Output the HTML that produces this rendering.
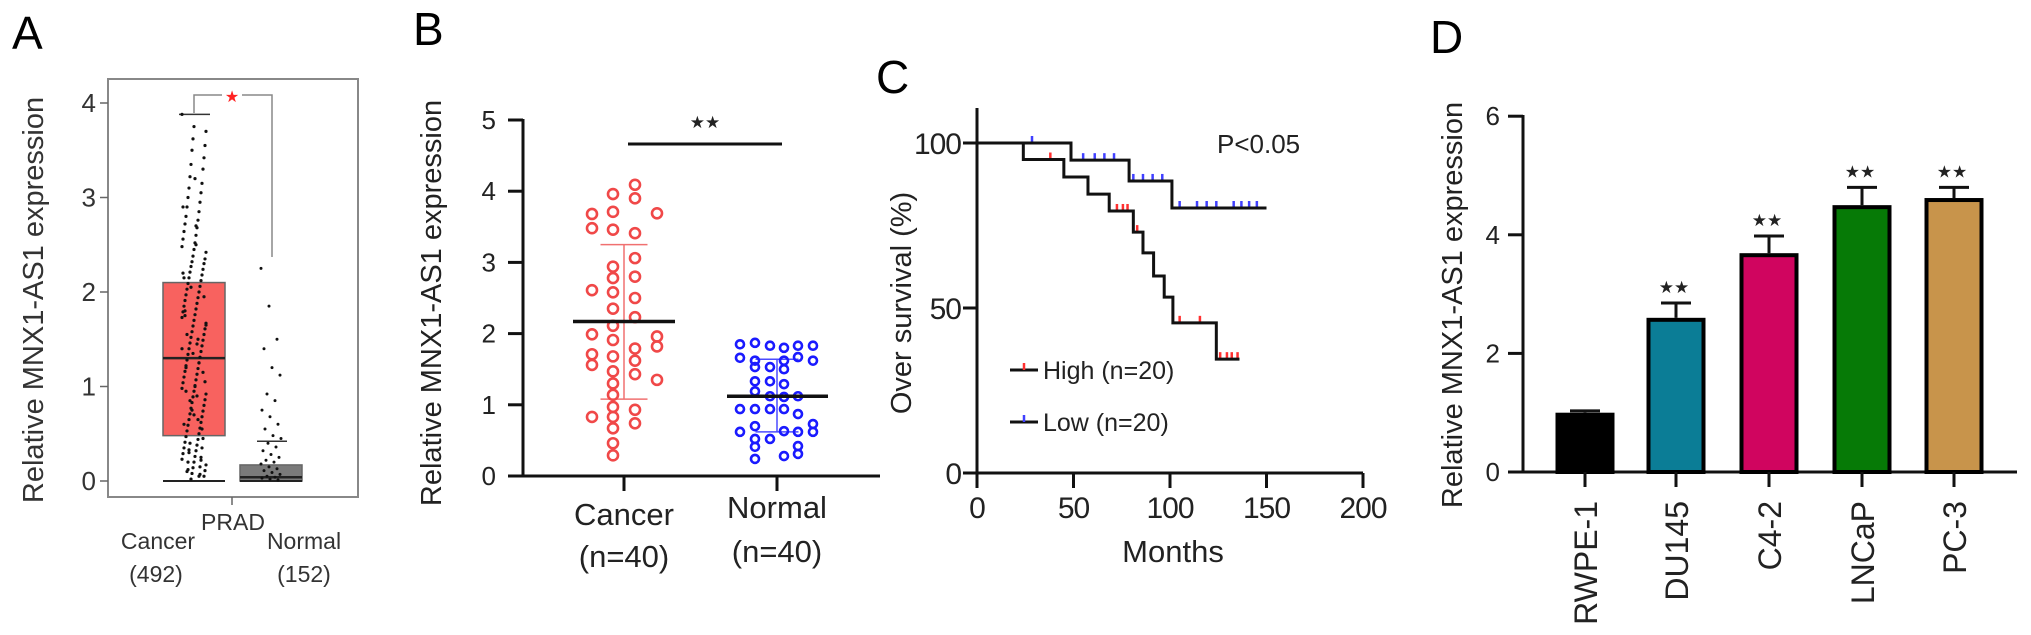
<!DOCTYPE html>
<html><head><meta charset="utf-8"><style>
html,body{margin:0;padding:0;background:#fff;}
svg{display:block;font-family:"Liberation Sans",Arial,sans-serif;}
</style></head><body>
<svg id="fig" width="2031" height="635" viewBox="0 0 2031 635" xmlns="http://www.w3.org/2000/svg">
<g id="pA"></g>
<g id="pB"></g>
<g id="pC"></g>
<g id="pD"></g>
</svg>
<script>
// ---------- Panel A data ----------
const aTicks = [0,1,2,3,4];
const aCancerBox = [0.48, 1.30, 2.10];   // q1, median, q3
const aCancerWhisk = [0, 3.88];
const aNormalBox = [0, 0.04, 0.17];
const aNormalWhisk = [0, 0.42];
const aCancerPts = [3.88,3.75,3.7,3.62,3.55,3.5,3.42,3.35,3.3,3.22,3.15,3.1,3.05,3.0,2.95,2.9,2.85,2.8,2.76,2.72,2.68,2.64,2.6,2.56,2.52,2.48,2.45,2.42,2.38,2.35,2.32,2.3,2.27,2.24,2.21,2.18,2.15,2.12,2.09,2.06,2.03,2.0,1.97,1.94,1.91,1.88,1.85,1.82,1.79,1.76,1.73,1.7,1.67,1.64,1.61,1.58,1.55,1.52,1.49,1.46,1.43,1.4,1.37,1.34,1.31,1.28,1.25,1.22,1.19,1.16,1.13,1.1,1.07,1.04,1.01,0.98,0.95,0.92,0.89,0.86,0.83,0.8,0.77,0.74,0.71,0.68,0.65,0.62,0.59,0.56,0.53,0.5,0.47,0.44,0.41,0.38,0.35,0.32,0.29,0.26,0.23,0.2,0.17,0.14,0.11,0.08,0.05,0.02,0.45,0.4,0.35,0.3,0.25,0.2,0.15,0.1,0.05,1.2,1.5,1.8,0.9,0.6,2.5,2.2,1.0,1.4,0.7,1.65,1.35,1.05,0.75,1.95,2.05,1.15,0.85,0.55,0.33,0.22,0.12,0.07,1.55,1.25,0.95,0.65,1.75,1.45,2.15,2.7,2.9,3.2];
const aNormalPts = [2.25,1.85,1.5,1.4,1.2,1.12,0.92,0.85,0.75,0.68,0.6,0.55,0.48,0.45,0.4,0.36,0.32,0.28,0.25,0.22,0.2,0.18,0.15,0.13,0.11,0.09,0.07,0.05,0.04,0.03,0.02,0.01];
// ---------- Panel B data ----------
const bTicks = [0,1,2,3,4,5];
const bCategories = ["Cancer","Normal"];
const bCancer = [[3.68,3.48,2.61,1.99,1.71,1.56,0.83],
 [3.96,3.71,3.46,2.94,2.78,2.58,2.35,2.11,1.91,1.68,1.47,1.30,1.14,0.97,0.83,0.67,0.46,0.29],
 [4.09,3.90,3.41,3.06,2.80,2.50,2.23,1.79,1.62,1.43,0.93,0.74],
 [3.69,1.96,1.82,1.35]];
const bNormal = [[1.85,1.66,0.94,0.62],
 [1.87,1.62,1.53,1.33,1.19,0.94,0.70,0.52,0.41,0.24],
 [1.83,1.53,1.33,1.12,0.94,0.52],
 [1.80,1.62,1.50,1.29,1.11,0.94,0.63,0.28],
 [1.83,1.67,1.12,0.87,0.62,0.42,0.31],
 [1.83,1.62,0.73,0.62]];
const bMean = [2.17, 1.12];
const bSD = [[1.08,3.25],[0.62,1.64]];
// ---------- Panel C data ----------
const cXTicks = [0,50,100,150,200];
const cYTicks = [0,50,100];
const highTimes = [24,45,57.5,68.5,81,86,91.5,97,101.5,124];
const highSurv = [95,89.7,84.5,79.4,73,66.7,59.7,53.3,45.5,34.5];
const highEnd = 136;
const highCensor = [38,72.5,75.6,78,83,105,115.5,126,129.5,132,135];
const lowTimes = [48.7,78.8,101];
const lowSurv = [94.8,88.5,80.3];
const lowEnd = 150;
const lowCensor = [28.5,55,61,66,71,81,86,91,96,105,114,119,124,133,137,141,145];
// ---------- Panel D data ----------
const dCategories = ["RWPE-1","DU145","C4-2","LNCaP","PC-3"];
const dValues = [1.0,2.6,3.69,4.5,4.62];
const dErrors = [0.03,0.25,0.29,0.3,0.18];
const dSig = ["","★★","★★","★★","★★"];
const dTicks = [0,2,4,6];
const dColors = ["#000000","#0b7d96","#d0055f","#067a06","#c8944b"];

const NS="http://www.w3.org/2000/svg";
function mk(parent,tag,attrs,text){const e=document.createElementNS(NS,tag);for(const k in attrs)e.setAttribute(k,attrs[k]);if(text!==undefined)e.textContent=text;parent.appendChild(e);return e;}

// ================= PANEL A =================
(function(){
const g=document.getElementById('pA');
const y=v=>481-94.5*v;
let t;
t=mk(g,'text',{x:12,y:49,'font-size':46},'A');

t=mk(g,'text',{x:0,y:0,'font-size':29,'text-anchor':'middle',fill:'#333',transform:'translate(43,300) rotate(-90)'},'Relative MNX1-AS1 expression');

t=mk(g,'rect',{x:108,y:79,width:250,height:418,fill:'none',stroke:'#888','stroke-width':2});

aTicks.forEach(v=>{
 const l=mk(g,'line',{x1:100,x2:108,y1:y(v),y2:y(v),stroke:'#666','stroke-width':1.5});
 
 const tx=mk(g,'text',{x:96,y:y(v)+9,'font-size':26,'text-anchor':'end',fill:'#333'},String(v));
 
});
function box(cx,w,b,wk,fill,name){
 const r=mk(g,'rect',{x:cx-w/2,y:y(b[2]),width:w,height:y(b[0])-y(b[2]),fill:fill,stroke:'#666','stroke-width':1.5});
 
 const m=mk(g,'line',{x1:cx-w/2,x2:cx+w/2,y1:y(b[1]),y2:y(b[1]),stroke:'#222','stroke-width':2.5});
 
 const w1=mk(g,'line',{x1:cx-w/2,x2:cx+w/2,y1:y(wk[0]),y2:y(wk[0]),stroke:'#222','stroke-width':2});
 
}
box(194,62,aCancerBox,aCancerWhisk,'#f8625f','cancer');
box(271,62,aNormalBox,aNormalWhisk,'#7a7a7a','normal');
let w=mk(g,'line',{x1:179,x2:210,y1:y(aCancerWhisk[1]),y2:y(aCancerWhisk[1]),stroke:'#333','stroke-width':1.5});

w=mk(g,'line',{x1:257,x2:287,y1:y(aNormalWhisk[1]),y2:y(aNormalWhisk[1]),stroke:'#333','stroke-width':1.5});

aCancerPts.forEach((v,i)=>{
 const dx=((i*37)%25)-12;
 const c=mk(g,'circle',{cx:194+dx,cy:y(v),r:1.6,fill:'#111'});
 
});
aNormalPts.forEach((v,i)=>{
 const dx=((i*29)%21)-10;
 const c=mk(g,'circle',{cx:271+dx,cy:y(v),r:1.5,fill:'#111'});
 
});
const br=mk(g,'polyline',{points:'194,113 194,95 222,95',fill:'none',stroke:'#888','stroke-width':1.5});

const br2=mk(g,'polyline',{points:'242,95 272,95 272,257',fill:'none',stroke:'#888','stroke-width':1.5});

t=mk(g,'text',{x:232,y:102,'font-size':16,'text-anchor':'middle',fill:'#f22','font-family':'DejaVu Sans'},'★');

const tk=mk(g,'line',{x1:232,x2:232,y1:497,y2:505,stroke:'#666','stroke-width':1.5});

[['PRAD',233,530,'x-axis-title'],['Cancer',158,549,'x-label-cancer'],['(492)',156,582,'x-count-cancer'],['Normal',304,549,'x-label-normal'],['(152)',304,582,'x-count-normal']].forEach(a=>{
 const e=mk(g,'text',{x:a[1],y:a[2],'font-size':23,'text-anchor':'middle',fill:'#333'},a[0]);
 
});
})();

// ================= PANEL B =================
(function(){
const g=document.getElementById('pB');
const y=v=>476-71.2*v;
const catX=[624,777];
let t=mk(g,'text',{x:413,y:45,'font-size':46},'B');

t=mk(g,'text',{x:0,y:0,'font-size':29,'text-anchor':'middle',fill:'#222',transform:'translate(441,303) rotate(-90)'},'Relative MNX1-AS1 expression');

let a=mk(g,'line',{x1:523,x2:523,y1:119,y2:477,stroke:'#111','stroke-width':3});

a=mk(g,'line',{x1:508,x2:880,y1:476,y2:476,stroke:'#111','stroke-width':3});

bTicks.forEach(v=>{
 const l=mk(g,'line',{x1:508,x2:523,y1:y(v),y2:y(v),stroke:'#111','stroke-width':3});
 
 const tx=mk(g,'text',{x:496,y:y(v)+9,'font-size':26,'text-anchor':'end',fill:'#222'},String(v));
 
});
bCategories.forEach((c,i)=>{
 const l=mk(g,'line',{x1:catX[i],x2:catX[i],y1:476,y2:491,stroke:'#111','stroke-width':3});
 
 const tx=mk(g,'text',{x:catX[i],y:i?518:525,'font-size':31,'text-anchor':'middle',fill:'#222'},c);
 
 const tn=mk(g,'text',{x:catX[i],y:i?562:567,'font-size':31,'text-anchor':'middle',fill:'#222'},'(n=40)');
 
});
const sdCol=['#f07070','#4b4bff'];const capW=[47,43];
bSD.forEach((s,i)=>{
 const l=mk(g,'line',{x1:catX[i],x2:catX[i],y1:y(s[0]),y2:y(s[1]),stroke:sdCol[i],'stroke-width':1.5});
 
 s.forEach(v=>{const c=mk(g,'line',{x1:catX[i]-capW[i]/2,x2:catX[i]+capW[i]/2,y1:y(v),y2:y(v),stroke:sdCol[i],'stroke-width':1.5});
 });
});
const cx0=[592,613,635,657];
bCancer.forEach((col,j)=>col.forEach(v=>{
 const c=mk(g,'circle',{cx:cx0[j],cy:y(v),r:5,fill:'none',stroke:'#f04848','stroke-width':2.6});
 
}));
const nx0=[740,755,770,784,798,813];
bNormal.forEach((col,j)=>col.forEach(v=>{
 const c=mk(g,'circle',{cx:nx0[j],cy:y(v),r:4,fill:'none',stroke:'#1a1aff','stroke-width':2.6});
 
}));
const mw=[[573,675],[727,828]];
bMean.forEach((m,i)=>{
 const l=mk(g,'line',{x1:mw[i][0],x2:mw[i][1],y1:y(m),y2:y(m),stroke:'#111','stroke-width':3.5});
 
});
a=mk(g,'line',{x1:628,x2:782,y1:144,y2:144,stroke:'#111','stroke-width':3});

t=mk(g,'text',{x:705,y:128,'font-size':17,'text-anchor':'middle',fill:'#222','font-family':'DejaVu Sans'},'★★');

})();

// ================= PANEL C =================
(function(){
const g=document.getElementById('pC');
const x=m=>977+1.93*m;
const y=p=>473-3.3*p;
let t=mk(g,'text',{x:876,y:93,'font-size':46},'C');

t=mk(g,'text',{x:0,y:0,'font-size':29,'text-anchor':'middle',fill:'#222',transform:'translate(911,303) rotate(-90)'},'Over survival (%)');

let a=mk(g,'line',{x1:977,x2:977,y1:108,y2:488,stroke:'#111','stroke-width':3});

a=mk(g,'line',{x1:963,x2:x(200),y1:473,y2:473,stroke:'#111','stroke-width':3});

cYTicks.forEach(v=>{
 const l=mk(g,'line',{x1:963,x2:977,y1:y(v),y2:y(v),stroke:'#111','stroke-width':3});
 
 const tx=mk(g,'text',{x:961,y:y(v)+11,'font-size':30,'text-anchor':'end',fill:'#222','letter-spacing':-1},String(v));
 
});
cXTicks.forEach(v=>{
 const l=mk(g,'line',{x1:x(v),x2:x(v),y1:473,y2:488,stroke:'#111','stroke-width':3});
 
 const tx=mk(g,'text',{x:x(v),y:518,'font-size':30,'text-anchor':'middle',fill:'#222','letter-spacing':-1},String(v));
 
});
t=mk(g,'text',{x:1173,y:562,'font-size':31,'text-anchor':'middle',fill:'#222'},'Months');

function survAt(times,surv,m){let s=100;times.forEach((tt,i)=>{if(m>=tt)s=surv[i];});return s;}
function curve(times,surv,end,cens,col,name){
 let d=`M${x(0)},${y(100)}`;
 times.forEach((tt,i)=>{d+=` H${x(tt)} V${y(surv[i])}`;});
 d+=` H${x(end)}`;
 cens.forEach(m=>{const c=mk(g,'line',{x1:x(m),x2:x(m),y1:y(survAt(times,surv,m))-7,y2:y(survAt(times,surv,m)),stroke:col,'stroke-width':2.5});
  });
 const p=mk(g,'path',{d:d,fill:'none',stroke:'#111','stroke-width':3});
 
}
curve(highTimes,highSurv,highEnd,highCensor,'#ff3030','high');
curve(lowTimes,lowSurv,lowEnd,lowCensor,'#4040ff','low');
[['High (n=20)',370,'#ff3030','legend-high'],['Low (n=20)',422,'#4040ff','legend-low']].forEach(L=>{
 const l=mk(g,'line',{x1:1010,x2:1038,y1:L[1],y2:L[1],stroke:'#111','stroke-width':3});
 
 const m=mk(g,'line',{x1:1024,x2:1024,y1:L[1]-7,y2:L[1],stroke:L[2],'stroke-width':2.5});
 
 const tx=mk(g,'text',{x:1043,y:L[1]+9,'font-size':25,fill:'#222'},L[0]);
 
});
t=mk(g,'text',{x:1217,y:153,'font-size':26,fill:'#222'},'P<0.05');

})();

// ================= PANEL D =================
(function(){
const g=document.getElementById('pD');
const y=v=>472-59.3*v;
const cx=[1585,1676,1769,1862,1954];const bw=59;
let t=mk(g,'text',{x:1430,y:53,'font-size':46},'D');

t=mk(g,'text',{x:0,y:0,'font-size':29,'text-anchor':'middle',fill:'#222',transform:'translate(1462,305) rotate(-90)'},'Relative MNX1-AS1 expression');

let a=mk(g,'line',{x1:1523,x2:1523,y1:115,y2:473,stroke:'#111','stroke-width':3});

a=mk(g,'line',{x1:1508,x2:2017,y1:472,y2:472,stroke:'#111','stroke-width':3});

dTicks.forEach(v=>{
 const l=mk(g,'line',{x1:1508,x2:1523,y1:y(v),y2:y(v),stroke:'#111','stroke-width':3});
 
 const tx=mk(g,'text',{x:1500,y:y(v)+9,'font-size':26,'text-anchor':'end',fill:'#222'},String(v));
 
});
dCategories.forEach((c,i)=>{
 const top=y(dValues[i]+dErrors[i]);
 const e=mk(g,'line',{x1:cx[i],x2:cx[i],y1:y(dValues[i]),y2:top,stroke:'#111','stroke-width':3});
 
 const ec=mk(g,'line',{x1:cx[i]-15,x2:cx[i]+15,y1:top,y2:top,stroke:'#111','stroke-width':3});
 
 const r=mk(g,'rect',{x:cx[i]-bw/2+2,y:y(dValues[i])+2,width:bw-4,height:472-y(dValues[i])-2,fill:dColors[i],stroke:'#000','stroke-width':4});
 
 const tk=mk(g,'line',{x1:cx[i],x2:cx[i],y1:472,y2:487,stroke:'#111','stroke-width':3});
 
 const tx=mk(g,'text',{x:0,y:0,'font-size':32,'text-anchor':'end',fill:'#222',transform:`translate(${cx[i]+12},501) rotate(-90)`},c);
 
 if(dSig[i]){const s=mk(g,'text',{x:cx[i]-2,y:top-10,'font-size':17,'text-anchor':'middle',fill:'#222','font-family':'DejaVu Sans'},dSig[i]);
  }
});
})();
</script>
</body></html>
